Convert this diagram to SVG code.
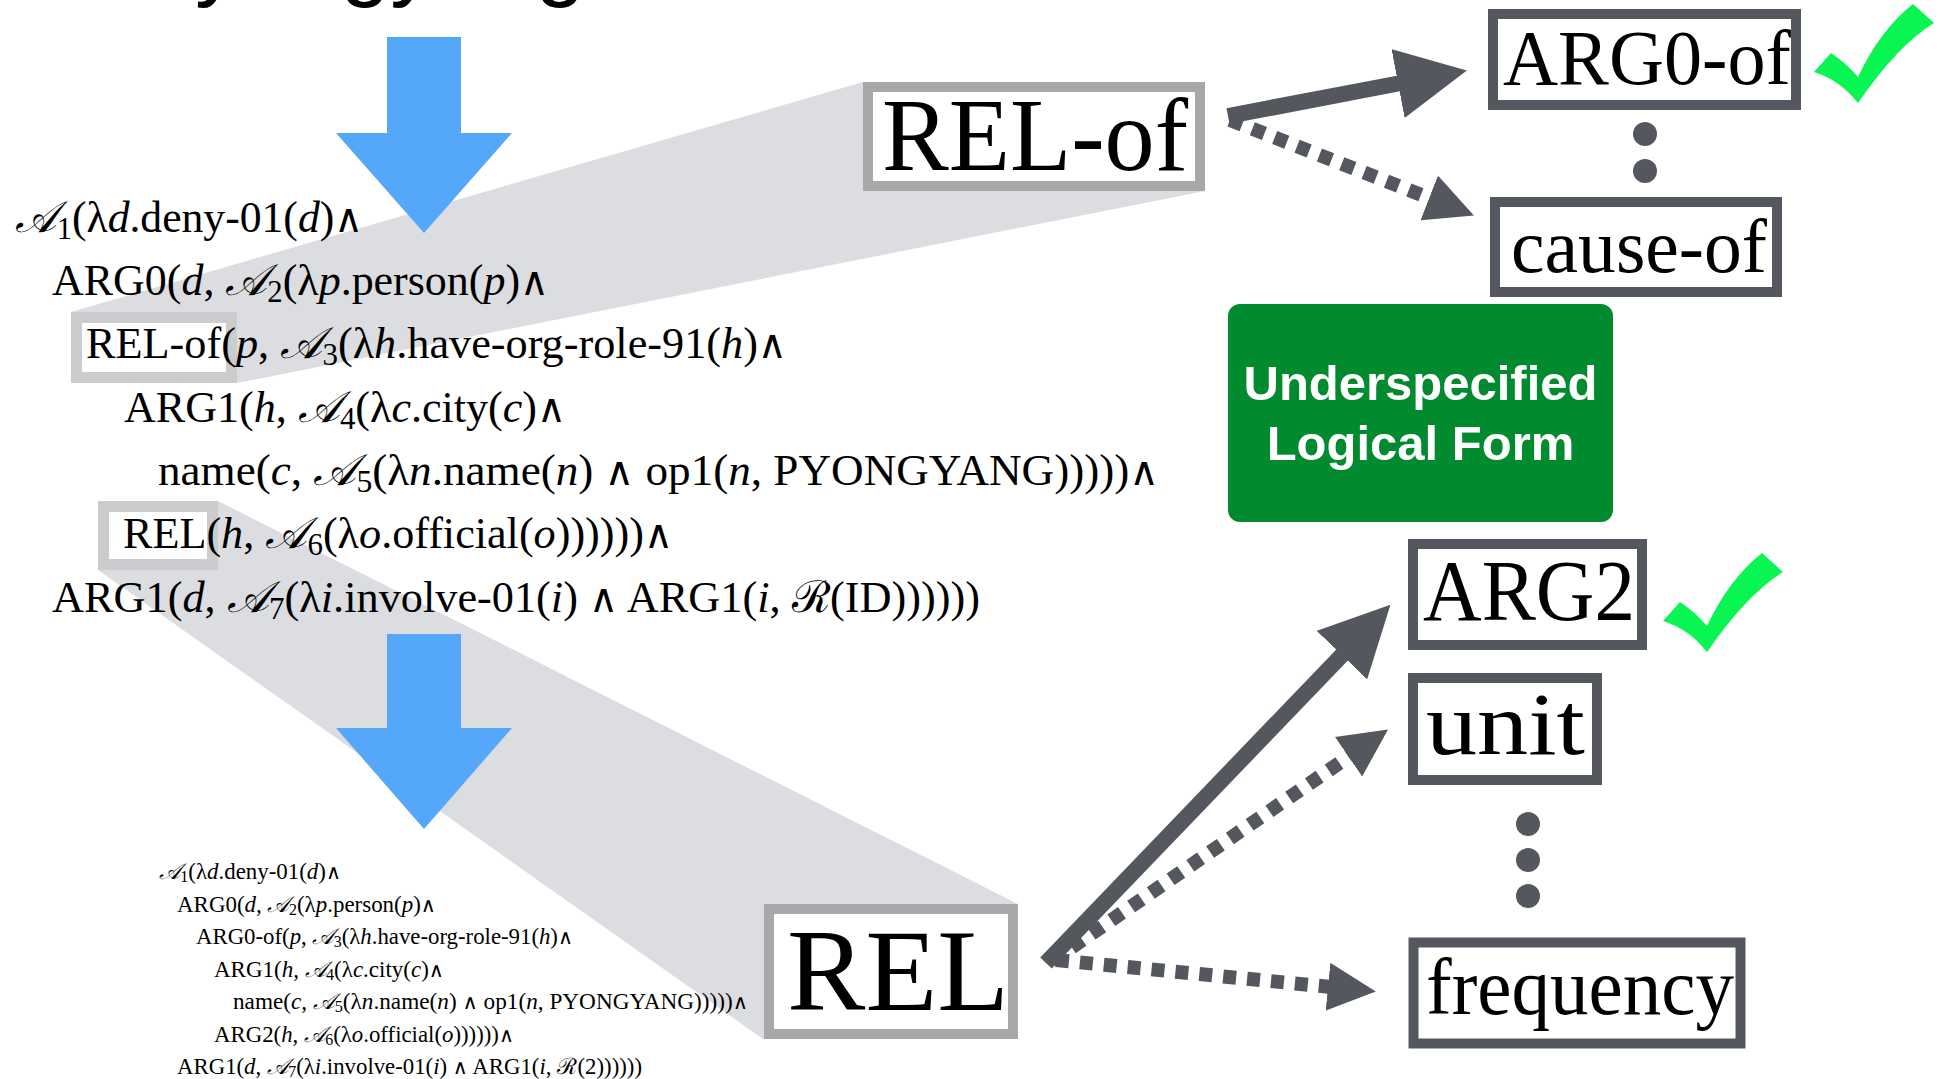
<svg xmlns="http://www.w3.org/2000/svg" width="1944" height="1079" viewBox="0 0 1944 1079">
  <style>
    .fx { font-family: "Liberation Serif", "DejaVu Serif", serif; fill: #000; }
    .big { font-size: 44px; }
    .small { font-size: 22.5px; }
    .i { font-style: italic; }
    .sub { font-size: 70%; }
    .and { font-family: "DejaVu Sans", sans-serif; font-size: 90%; }
    .lbl { font-family: "Liberation Serif", "DejaVu Serif", serif; fill: #000; }
    .src { fill: #fff; stroke: #cbcccd; stroke-width: 11; }
    .tgt { fill: #fff; stroke: #a6a8a9; stroke-width: 10; }
    .rel { fill: #fff; stroke: #54585e; stroke-width: 10; }
    .band { fill: #dcdde0; }
    .down { fill: #55a8f9; }
    .dot { fill: #54585e; }
    .check { fill: #08f552; }
    .solid { stroke: #54585e; stroke-width: 16; fill: none; }
    .dash { stroke: #54585e; stroke-width: 14; fill: none; stroke-dasharray: 13 11; }
    .ulf { font-family: "Liberation Sans", Arial, sans-serif; font-weight: bold; font-size: 49px; fill: #fff; }
  </style>
  <defs>
    <marker id="headSolid" markerUnits="userSpaceOnUse" viewBox="0 0 70 70" markerWidth="70" markerHeight="70" refX="3" refY="35" orient="auto">
      <path d="M0,0 L70,35 L0,70 Z" fill="#54585e"/>
    </marker>
    <marker id="headDash" markerUnits="userSpaceOnUse" viewBox="0 0 48 48" markerWidth="48" markerHeight="48" refX="3" refY="24" orient="auto">
      <path d="M0,0 L48,24 L0,48 Z" fill="#54585e"/>
    </marker>
    <path id="tick" d="M0,0 L17,-19 Q32,-9 44,5 Q66,-42 99,-68 L120,-49 Q84,-27 44,31 Q26,8 0,0 Z"/>
  </defs>

  <!-- sentence (runs off the top edge) -->
  <text x="135" y="-11" font-family="Liberation Sans, Arial, sans-serif" font-size="90" fill="#000">Pyongyang</text>

  <!-- projection bands linking a relation to its enlarged view -->
  <g id="bands">
    <polygon class="band" points="71,312 863,82 1205,82 1205,191 237,383 71,383"/>
    <polygon class="band" points="98,501 218,501 1018,904 1018,1039 763,1039 98,570"/>
  </g>

  <!-- big blue down arrows -->
  <g id="flow">
    <polygon class="down" points="387,37 461,37 461,133 512,133 424,233 336,133 387,133"/>
    <polygon class="down" points="387,634 461,634 461,728 512,728 424,829 336,728 387,728"/>
  </g>

  <!-- logical form with placeholder relations -->
  <g id="underspecified-form">
    <rect class="src" x="76.5" y="317.5" width="155" height="60"/>
    <rect class="src" x="103.5" y="506.5" width="109" height="58"/>
    <text class="fx big" x="15" y="232" textLength="348" lengthAdjust="spacingAndGlyphs"><tspan class="i">𝒜</tspan><tspan class="sub" dy=".22em">1</tspan><tspan dy="-.154em">(λ</tspan><tspan class="i">d</tspan>.deny-01(<tspan class="i">d</tspan>)<tspan class="and">∧</tspan></text>
    <text class="fx big" x="52" y="295" textLength="497" lengthAdjust="spacingAndGlyphs">ARG0(<tspan class="i">d</tspan>, <tspan class="i">𝒜</tspan><tspan class="sub" dy=".22em">2</tspan><tspan dy="-.154em">(λ</tspan><tspan class="i">p</tspan>.person(<tspan class="i">p</tspan>)<tspan class="and">∧</tspan></text>
    <text class="fx big" x="86" y="358" textLength="701" lengthAdjust="spacingAndGlyphs">REL-of(<tspan class="i">p</tspan>, <tspan class="i">𝒜</tspan><tspan class="sub" dy=".22em">3</tspan><tspan dy="-.154em">(λ</tspan><tspan class="i">h</tspan>.have-org-role-91(<tspan class="i">h</tspan>)<tspan class="and">∧</tspan></text>
    <text class="fx big" x="124" y="422" textLength="442" lengthAdjust="spacingAndGlyphs">ARG1(<tspan class="i">h</tspan>, <tspan class="i">𝒜</tspan><tspan class="sub" dy=".22em">4</tspan><tspan dy="-.154em">(λ</tspan><tspan class="i">c</tspan>.city(<tspan class="i">c</tspan>)<tspan class="and">∧</tspan></text>
    <text class="fx big" x="158" y="485" textLength="1001" lengthAdjust="spacingAndGlyphs">name(<tspan class="i">c</tspan>, <tspan class="i">𝒜</tspan><tspan class="sub" dy=".22em">5</tspan><tspan dy="-.154em">(λ</tspan><tspan class="i">n</tspan>.name(<tspan class="i">n</tspan>) <tspan class="and">∧</tspan> op1(<tspan class="i">n</tspan>, PYONGYANG)))))<tspan class="and">∧</tspan></text>
    <text class="fx big" x="123" y="548" textLength="550" lengthAdjust="spacingAndGlyphs">REL(<tspan class="i">h</tspan>, <tspan class="i">𝒜</tspan><tspan class="sub" dy=".22em">6</tspan><tspan dy="-.154em">(λ</tspan><tspan class="i">o</tspan>.official(<tspan class="i">o</tspan>))))))<tspan class="and">∧</tspan></text>
    <text class="fx big" x="52" y="612" textLength="928" lengthAdjust="spacingAndGlyphs">ARG1(<tspan class="i">d</tspan>, <tspan class="i">𝒜</tspan><tspan class="sub" dy=".22em">7</tspan><tspan dy="-.154em">(λ</tspan><tspan class="i">i</tspan>.involve-01(<tspan class="i">i</tspan>) <tspan class="and">∧</tspan> ARG1(<tspan class="i">i</tspan>, ℛ(ID))))))</text>
  </g>

  <!-- resolved logical form -->
  <g id="resolved-form">
    <text class="fx small" x="159" y="879" textLength="182" lengthAdjust="spacingAndGlyphs"><tspan class="i">𝒜</tspan><tspan class="sub" dy=".22em">1</tspan><tspan dy="-.154em">(λ</tspan><tspan class="i">d</tspan>.deny-01(<tspan class="i">d</tspan>)<tspan class="and">∧</tspan></text>
    <text class="fx small" x="177" y="911.5" textLength="259" lengthAdjust="spacingAndGlyphs">ARG0(<tspan class="i">d</tspan>, <tspan class="i">𝒜</tspan><tspan class="sub" dy=".22em">2</tspan><tspan dy="-.154em">(λ</tspan><tspan class="i">p</tspan>.person(<tspan class="i">p</tspan>)<tspan class="and">∧</tspan></text>
    <text class="fx small" x="196" y="944" textLength="377" lengthAdjust="spacingAndGlyphs">ARG0-of(<tspan class="i">p</tspan>, <tspan class="i">𝒜</tspan><tspan class="sub" dy=".22em">3</tspan><tspan dy="-.154em">(λ</tspan><tspan class="i">h</tspan>.have-org-role-91(<tspan class="i">h</tspan>)<tspan class="and">∧</tspan></text>
    <text class="fx small" x="214" y="976.5" textLength="230" lengthAdjust="spacingAndGlyphs">ARG1(<tspan class="i">h</tspan>, <tspan class="i">𝒜</tspan><tspan class="sub" dy=".22em">4</tspan><tspan dy="-.154em">(λ</tspan><tspan class="i">c</tspan>.city(<tspan class="i">c</tspan>)<tspan class="and">∧</tspan></text>
    <text class="fx small" x="233" y="1009" textLength="515" lengthAdjust="spacingAndGlyphs">name(<tspan class="i">c</tspan>, <tspan class="i">𝒜</tspan><tspan class="sub" dy=".22em">5</tspan><tspan dy="-.154em">(λ</tspan><tspan class="i">n</tspan>.name(<tspan class="i">n</tspan>) <tspan class="and">∧</tspan> op1(<tspan class="i">n</tspan>, PYONGYANG)))))<tspan class="and">∧</tspan></text>
    <text class="fx small" x="214" y="1041.5" textLength="300" lengthAdjust="spacingAndGlyphs">ARG2(<tspan class="i">h</tspan>, <tspan class="i">𝒜</tspan><tspan class="sub" dy=".22em">6</tspan><tspan dy="-.154em">(λ</tspan><tspan class="i">o</tspan>.official(<tspan class="i">o</tspan>))))))<tspan class="and">∧</tspan></text>
    <text class="fx small" x="177" y="1074" textLength="465" lengthAdjust="spacingAndGlyphs">ARG1(<tspan class="i">d</tspan>, <tspan class="i">𝒜</tspan><tspan class="sub" dy=".22em">7</tspan><tspan dy="-.154em">(λ</tspan><tspan class="i">i</tspan>.involve-01(<tspan class="i">i</tspan>) <tspan class="and">∧</tspan> ARG1(<tspan class="i">i</tspan>, ℛ(2))))))</text>
  </g>

  <!-- enlarged placeholder relations -->
  <g id="node-rel-of">
    <rect class="tgt" x="868" y="87" width="332" height="99"/>
    <text class="lbl" x="882" y="170" font-size="103" textLength="306" lengthAdjust="spacingAndGlyphs">REL-of</text>
  </g>
  <g id="node-rel">
    <rect class="tgt" x="769" y="909" width="244" height="125"/>
    <text class="lbl" x="787" y="1010" font-size="116" textLength="222" lengthAdjust="spacingAndGlyphs">REL</text>
  </g>

  <!-- candidate relations -->
  <g id="node-arg0-of">
    <rect class="rel" x="1493" y="14" width="303" height="91"/>
    <text class="lbl" x="1503" y="84" font-size="79" textLength="288" lengthAdjust="spacingAndGlyphs">ARG0-of</text>
  </g>
  <g id="node-cause-of">
    <rect class="rel" x="1495" y="202" width="282" height="90"/>
    <text class="lbl" x="1511" y="272" font-size="76" textLength="256" lengthAdjust="spacingAndGlyphs">cause-of</text>
  </g>
  <g id="node-arg2">
    <rect class="rel" x="1413" y="544" width="229" height="101"/>
    <text class="lbl" x="1423" y="620" font-size="86" textLength="212" lengthAdjust="spacingAndGlyphs">ARG2</text>
  </g>
  <g id="node-unit">
    <rect class="rel" x="1413" y="678" width="184" height="102"/>
    <text class="lbl" x="1426" y="754" font-size="88" textLength="159" lengthAdjust="spacingAndGlyphs">unit</text>
  </g>
  <g id="node-frequency">
    <rect class="rel" x="1413.5" y="942.5" width="327" height="101"/>
    <text class="lbl" x="1426" y="1014" font-size="80" textLength="308" lengthAdjust="spacingAndGlyphs">frequency</text>
  </g>

  <!-- ellipsis dots between candidates -->
  <g id="more-candidates">
    <circle class="dot" cx="1645" cy="134" r="12"/>
    <circle class="dot" cx="1645" cy="171" r="12"/>
    <circle class="dot" cx="1528" cy="824" r="12"/>
    <circle class="dot" cx="1528" cy="860" r="12"/>
    <circle class="dot" cx="1528" cy="896" r="12"/>
  </g>

  <!-- selected-relation ticks -->
  <g id="ticks">
    <use href="#tick" class="check" transform="translate(1814,72)"/>
    <use href="#tick" class="check" transform="translate(1663,621)"/>
  </g>

  <!-- caption -->
  <g id="node-caption">
    <rect x="1228" y="304" width="385" height="218" rx="12" fill="#028a2f"/>
    <text class="ulf" x="1420.5" y="400" text-anchor="middle">Underspecified</text>
    <text class="ulf" x="1420.5" y="460" text-anchor="middle">Logical Form</text>
  </g>

  <!-- relation choices -->
  <g id="connectors">
    <line class="solid" x1="1228" y1="116" x2="1401" y2="83" marker-end="url(#headSolid)"/>
    <line class="dash" x1="1230" y1="120" x2="1432" y2="199" marker-end="url(#headDash)"/>
    <line class="solid" x1="1046" y1="963" x2="1344" y2="653" marker-end="url(#headSolid)"/>
    <line class="dash" x1="1052" y1="961" x2="1351" y2="755" marker-end="url(#headDash)"/>
    <line class="dash" x1="1056" y1="960" x2="1331" y2="987" marker-end="url(#headDash)"/>
  </g>
</svg>
